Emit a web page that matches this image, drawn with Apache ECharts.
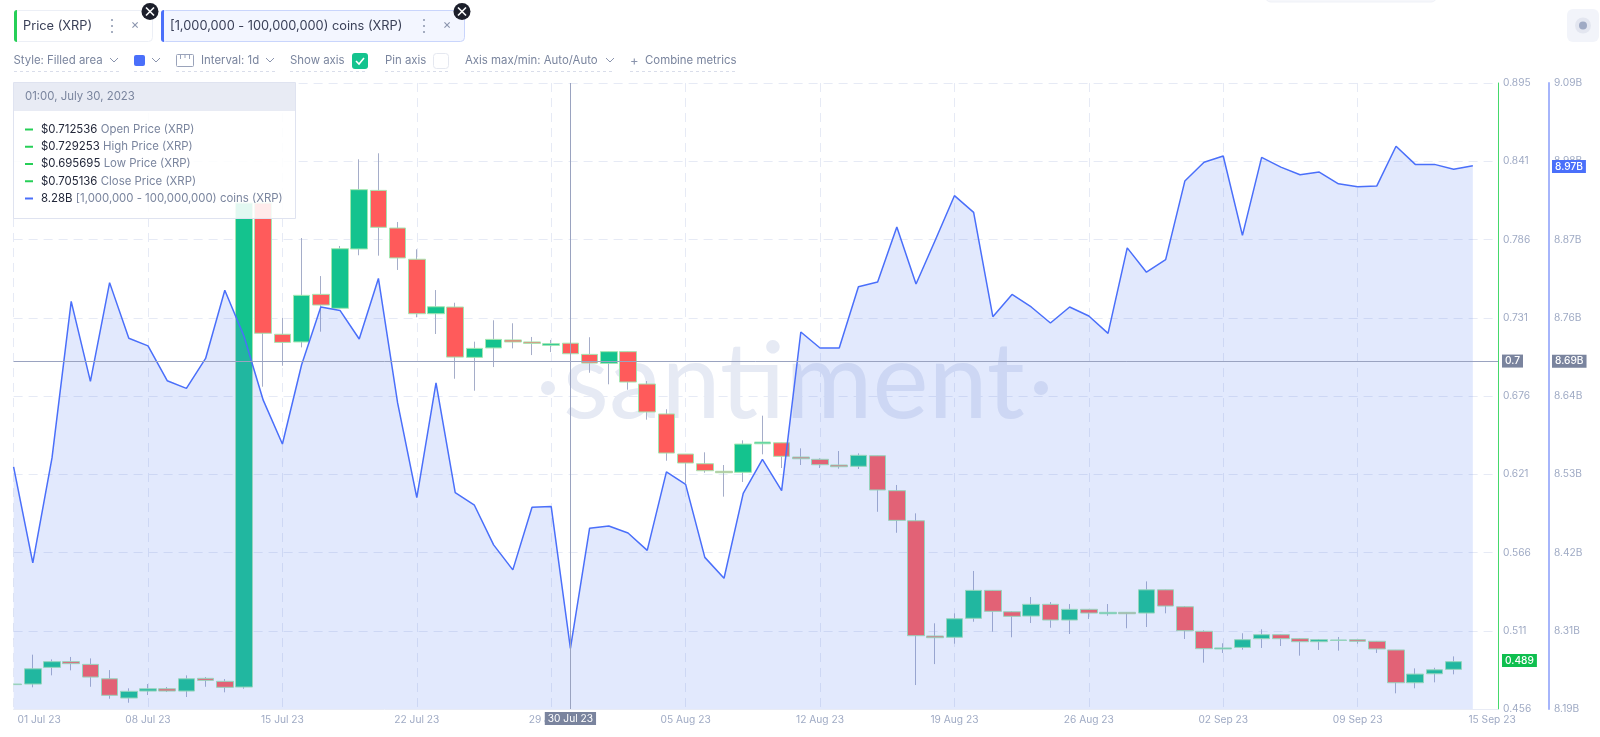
<!DOCTYPE html>
<html>
<head>
<meta charset="utf-8">
<title>Price (XRP) vs coins (XRP)</title>
<script src="https://cdn.jsdelivr.net/npm/echarts@6/dist/echarts.min.js"></script>
<style>
  html, body { margin: 0; padding: 0; background: #fff; }
  #chart { width: 1600px; height: 737px; }
</style>
</head>
<body>
<div id="chart"></div>
<script>
// x tick labels, one per week from 01 Jul, the last one is the end of the range
const xTickLabels = ['01 Jul 23', '08 Jul 23', '15 Jul 23', '22 Jul 23', '29 Jul 23', '05 Aug 23', '12 Aug 23', '19 Aug 23', '26 Aug 23', '02 Sep 23', '09 Sep 23', '15 Sep 23'];
const priceTickLabels = ['0.456', '0.511', '0.566', '0.621', '0.676', '0.731', '0.786', '0.841', '0.895'];
const coinTickLabels = ['8.19B', '8.31B', '8.42B', '8.53B', '8.64B', '8.76B', '8.87B', '8.98B', '9.09B'];

// daily candles, index 0 = 01 Jul 23
const opens = [0.4735, 0.4735, 0.4852, 0.4892, 0.4873, 0.4772, 0.4637, 0.4686, 0.4702, 0.4686, 0.4775, 0.4754, 0.4714, 0.8108, 0.7188, 0.7134, 0.7468, 0.7370, 0.7786, 0.8197, 0.7933, 0.7714, 0.7332, 0.7379, 0.7026, 0.7092, 0.7148, 0.7134, 0.7110, 0.712536, 0.7047, 0.6984, 0.7066, 0.6839, 0.6629, 0.6348, 0.6280, 0.6227, 0.6220, 0.6420, 0.6427, 0.6327, 0.6311, 0.6271, 0.6262, 0.6336, 0.6091, 0.5880, 0.5072, 0.5063, 0.5196, 0.5392, 0.5242, 0.5212, 0.5294, 0.5184, 0.5259, 0.5228, 0.5238, 0.5233, 0.5396, 0.5277, 0.5105, 0.4981, 0.4992, 0.5053, 0.5081, 0.5053, 0.5032, 0.5041, 0.5046, 0.5035, 0.4974, 0.4744, 0.4807, 0.4838];
const closes = [0.4731, 0.4842, 0.4892, 0.4878, 0.4784, 0.4656, 0.4684, 0.4702, 0.4686, 0.4772, 0.4761, 0.4712, 0.8108, 0.7195, 0.7131, 0.7461, 0.7393, 0.7788, 0.8202, 0.7938, 0.7723, 0.7332, 0.7381, 0.7028, 0.7089, 0.7152, 0.7134, 0.7124, 0.7122, 0.705136, 0.6986, 0.7066, 0.6853, 0.6643, 0.6355, 0.6285, 0.6231, 0.6217, 0.6418, 0.6432, 0.6332, 0.6315, 0.6273, 0.6259, 0.6339, 0.6096, 0.5883, 0.5074, 0.5060, 0.5193, 0.5392, 0.5245, 0.5210, 0.5294, 0.5184, 0.5259, 0.5233, 0.5238, 0.5228, 0.5396, 0.5282, 0.5109, 0.4983, 0.4988, 0.5046, 0.5081, 0.5053, 0.5032, 0.5046, 0.5044, 0.5035, 0.4981, 0.4744, 0.4805, 0.4835, 0.4892];
const lows = [0.4658, 0.4712, 0.4796, 0.4831, 0.4716, 0.4632, 0.4604, 0.4658, 0.4679, 0.4644, 0.4716, 0.4677, 0.4702, 0.6820, 0.6967, 0.7096, 0.7206, 0.7370, 0.7742, 0.7739, 0.7639, 0.7307, 0.7190, 0.6876, 0.6792, 0.6958, 0.7089, 0.7042, 0.7063, 0.695695, 0.6918, 0.6837, 0.6799, 0.6589, 0.6301, 0.6143, 0.6217, 0.6049, 0.6152, 0.6346, 0.6250, 0.6271, 0.6250, 0.6245, 0.6243, 0.5943, 0.5796, 0.4728, 0.4875, 0.5018, 0.5172, 0.5102, 0.5063, 0.5163, 0.5130, 0.5086, 0.5191, 0.5214, 0.5126, 0.5135, 0.5231, 0.5051, 0.4885, 0.4953, 0.4976, 0.4988, 0.5002, 0.4934, 0.4974, 0.4969, 0.5018, 0.4953, 0.4670, 0.4705, 0.4747, 0.4803];
const highs = [0.4751, 0.4941, 0.4908, 0.4925, 0.4915, 0.4833, 0.4705, 0.4735, 0.4714, 0.4796, 0.4784, 0.4770, 0.8136, 0.8136, 0.7304, 0.7863, 0.7596, 0.7807, 0.8415, 0.8457, 0.7975, 0.7784, 0.7498, 0.7409, 0.7136, 0.7286, 0.7265, 0.7169, 0.7148, 0.729253, 0.7167, 0.7066, 0.7066, 0.6860, 0.6662, 0.6348, 0.6360, 0.6271, 0.6444, 0.6617, 0.6427, 0.6388, 0.6318, 0.6369, 0.6353, 0.6336, 0.6131, 0.5932, 0.5161, 0.5231, 0.5528, 0.5394, 0.5247, 0.5345, 0.5310, 0.5296, 0.5259, 0.5296, 0.5238, 0.5455, 0.5396, 0.5282, 0.5112, 0.5021, 0.5091, 0.5119, 0.5084, 0.5056, 0.5051, 0.5065, 0.5046, 0.5037, 0.4974, 0.4845, 0.4849, 0.4929];

// supply held by the 1M-100M cohort, in billions, index 0 = 01 Jul 23
const coinValues = [8.538, 8.400, 8.551, 8.776, 8.661, 8.803, 8.723, 8.712, 8.662, 8.651, 8.694, 8.792, 8.726, 8.634, 8.571, 8.685, 8.768, 8.763, 8.722, 8.809, 8.630, 8.494, 8.659, 8.501, 8.483, 8.426, 8.390, 8.480, 8.481, 8.277, 8.450, 8.453, 8.443, 8.418, 8.531, 8.513, 8.408, 8.378, 8.500, 8.549, 8.504, 8.732, 8.709, 8.709, 8.797, 8.804, 8.883, 8.801, 8.864, 8.928, 8.904, 8.754, 8.786, 8.768, 8.745, 8.768, 8.755, 8.730, 8.853, 8.818, 8.836, 8.949, 8.976, 8.985, 8.871, 8.983, 8.969, 8.958, 8.962, 8.945, 8.941, 8.942, 8.999, 8.973, 8.973, 8.966, 8.971];

const tooltipTitle = '01:00, July 30, 2023';
const tooltipValues = ['$0.712536', '$0.729253', '$0.695695', '$0.705136', '8.28B'];
const tooltipNames = ['Open Price (XRP)', 'High Price (XRP)', 'Low Price (XRP)', 'Close Price (XRP)', '[1,000,000 - 100,000,000) coins (XRP)'];

const FONT = 'Inter, "Noto Sans", sans-serif';
const GREY = '#9faac4';
const GREEN = '#26cf57';
const BLUE = '#4a6ffa';
const PANEL_Z = 50;
const UI_SIZE = 11.4;

const evenTicks = (min, max, n) => Array.from({ length: n }, (_, i) => i === n - 1 ? max : min + (max - min) * i / (n - 1));
const PRICE_MIN = 0.456, PRICE_MAX = 0.895, COIN_MIN = 8.19, COIN_MAX = 9.09;

const chart = echarts.init(document.getElementById('chart'), null, { renderer: 'canvas' });

// --- helpers for the page furniture around the plot ---
function txt(x, y, text, fill, size, extra) {
    return { type: 'text', x, y, z: PANEL_Z, silent: true,
        style: Object.assign({ text, fill: fill || '#7a859e', fontSize: size || UI_SIZE, fontFamily: FONT, verticalAlign: 'middle' }, extra) };
}
function box(x, y, w, h, fill, stroke, r, z) {
    return { type: 'rect', z: z || PANEL_Z, silent: true, shape: { x, y, width: w, height: h, r: r || 0 },
        style: { fill: fill || 'none', stroke: stroke || 'none', lineWidth: 1 } };
}
function poly(points, stroke, width, z) {
    return { type: 'polyline', z: z || PANEL_Z, silent: true, shape: { points },
        style: { stroke, lineWidth: width || 1, fill: 'none' } };
}
function chevron(x, y) {
    return poly([[x - 4, y - 2], [x, y + 2], [x + 4, y - 2]], '#8a94ad', 1);
}
function underline(x1, x2) {
    return { type: 'line', z: PANEL_Z, silent: true, shape: { x1, y1: 71.5, x2, y2: 71.5 },
        style: { stroke: '#d9ddea', lineWidth: 1, lineDash: [3, 3] } };
}
function dot(cx, cy, r, fill, z) {
    return { type: 'circle', z: z || PANEL_Z, silent: true, shape: { cx, cy, r }, style: { fill } };
}
function closeBadge(cx, cy) {
    return [
        dot(cx, cy, 8.5, '#1c1f2b', PANEL_Z + 1),
        poly([[cx - 4, cy - 4], [cx + 4, cy + 4]], '#fff', 1.6, PANEL_Z + 2),
        poly([[cx + 4, cy - 4], [cx - 4, cy + 4]], '#fff', 1.6, PANEL_Z + 2)
    ];
}
function chip(x, w, label, accent, fill, stroke, dotsX, crossX) {
    return [
        box(x + 0.5, 10.5, w, 31, fill, stroke, 4),
        { type: 'rect', z: PANEL_Z, silent: true, shape: { x, y: 10, width: 3, height: 32, r: [3, 0, 0, 3] }, style: { fill: accent } },
        txt(x + 9, 26, label, '#3a4058', 12.8),
        dot(dotsX, 20, 1, '#8a94ad'), dot(dotsX, 26, 1, '#8a94ad'), dot(dotsX, 32, 1, '#8a94ad'),
        txt(crossX, 25.5, '×', '#8a94ad', 13, { align: 'center' })
    ];
}

const toolbar = [
    ...chip(14, 138, 'Price (XRP)', GREEN, '#fff', '#eceff6', 112, 135),
    ...chip(161, 303, '[1,000,000 - 100,000,000) coins (XRP)', BLUE, '#f3f6ff', '#c9d5fc', 424, 447),
    ...closeBadge(150, 11.5),
    ...closeBadge(462, 11.5),
    txt(13.5, 61, 'Style: Filled area'), chevron(114, 60), underline(14, 119),
    box(134, 55, 11, 11, BLUE, null, 2), chevron(156, 60), underline(134, 161),
    box(176.5, 54.5, 17, 12, 'none', '#9aa3ba', 1),
    poly([[180.5, 55], [180.5, 59]], '#9aa3ba'), poly([[185, 55], [185, 58]], '#9aa3ba'), poly([[189.5, 55], [189.5, 59]], '#9aa3ba'),
    txt(201, 61, 'Interval: 1d'), chevron(270, 60), underline(176, 275),
    txt(290, 61, 'Show axis'), box(352, 53, 16, 16, '#14c38e', null, 3),
    poly([[356, 61], [359, 64], [364, 58]], '#fff', 1.6), underline(290, 368),
    txt(385, 61, 'Pin axis'), box(433.5, 53.5, 15, 15, '#fff', '#e5e8f0', 3), underline(385, 449),
    txt(465, 61, 'Axis max/min: Auto/Auto'), chevron(610, 60), underline(465, 614),
    txt(630, 61, '+', '#8a94ad', 13), txt(645, 61, 'Combine metrics'), underline(630, 736),
    // settings button and the clipped chip on the top edge
    box(1567, 9, 32, 33, '#f2f4fa', null, 6),
    dot(1583, 25.5, 8, '#e3e6f0'), dot(1583, 25.5, 4, GREY),
    box(1265, -10, 172, 12, '#f6f7fb', '#eff1f7', 6)
];

const tooltipPanel = [
    box(13.5, 82.5, 282, 136, 'rgba(255,255,255,0.88)', '#dfe3f0', 0),
    box(14, 83, 281, 28, '#e8ebf4', null, 0),
    txt(25, 97, tooltipTitle)
];
tooltipValues.forEach((value, i) => {
    const y = 129.5 + i * 17.25;
    const accent = i < 4 ? GREEN : BLUE;
    tooltipPanel.push({ type: 'rect', z: PANEL_Z, silent: true, shape: { x: 25, y: y - 1, width: 8, height: 2 }, style: { fill: accent } });
    tooltipPanel.push({ type: 'text', x: 41, y, z: PANEL_Z, silent: true, style: {
        text: '{v|' + value + '} {n|' + tooltipNames[i] + '}',
        verticalAlign: 'middle',
        rich: {
            v: { fill: '#23283a', fontSize: UI_SIZE, fontFamily: FONT },
            n: { fill: '#7a859e', fontSize: UI_SIZE, fontFamily: FONT }
        }
    } });
});

// big logo text sits below the series, the area tints it
const watermark = [
    { type: 'text', x: 563, y: 331, z: 1, silent: true, style: {
        text: 'santiment', fill: '#e6eaf4', fontSize: 106, fontWeight: 400, fontFamily: 'Lato, Roboto, sans-serif' } },
    dot(548, 388, 7, '#e6eaf4', 1),
    dot(1041, 388, 7, '#e6eaf4', 1),
    // the first candle is cut by the left edge of the plot
    box(0, 640, 13.2, 69, '#fff', null, 0, 4)
];

const axisFontBase = { color: GREY, fontFamily: FONT, fontSize: 10.2, margin: 5 };

const tag = (bg, text, y, key) => ({
    [key]: y,
    label: { show: true, position: 'end', formatter: text, backgroundColor: bg, color: '#fff',
        fontFamily: FONT, fontSize: 10.2, fontWeight: 500, padding: [2, 3, 1, 3] }
});

const option = {
    animation: false,
    backgroundColor: '#fff',
    grid: { left: 13.6, right: 102, top: 83, bottom: 28 },
    xAxis: {
        type: 'value',
        min: 0,
        max: 77.31,
        axisLine: { show: true, onZero: false, lineStyle: { color: '#e8ebf5' } },
        axisTick: { show: false, customValues: [0, 7, 14, 21, 28, 35, 42, 49, 56, 63, 70] },
        splitLine: { show: true, lineStyle: { color: '#e6eaf5', type: [9, 6] } },
        axisLabel: {
            color: GREY, fontFamily: FONT, fontSize: 10.2, margin: 6,
            // first and last labels are pushed to stay inside the plot
            customValues: [1.33, 7, 14, 21, 28, 35, 42, 49, 56, 63, 70, 77],
            formatter: value => xTickLabels[Math.round(value / 7)]
        }
    },
    yAxis: [
        {
            type: 'value', position: 'right', min: PRICE_MIN, max: PRICE_MAX,
            axisLine: { show: true, onZero: false, lineStyle: { color: '#45d96b', width: 1 } },
            axisTick: { show: false, customValues: evenTicks(PRICE_MIN, PRICE_MAX, 9) },
            splitLine: { show: true, lineStyle: { color: '#e6eaf5', type: [9, 6] } },
            axisLabel: Object.assign({}, axisFontBase, {
                customValues: evenTicks(PRICE_MIN, PRICE_MAX, 9),
                formatter: value => priceTickLabels[Math.round((value - PRICE_MIN) / (PRICE_MAX - PRICE_MIN) * 8)]
            })
        },
        {
            type: 'value', position: 'right', offset: 51, min: COIN_MIN, max: COIN_MAX,
            axisLine: { show: true, onZero: false, lineStyle: { color: '#a6b5fb', width: 2 } },
            axisTick: { show: false, customValues: evenTicks(COIN_MIN, COIN_MAX, 9) },
            splitLine: { show: false },
            axisLabel: Object.assign({}, axisFontBase, {
                customValues: evenTicks(COIN_MIN, COIN_MAX, 9),
                formatter: value => coinTickLabels[Math.round((value - COIN_MIN) / (COIN_MAX - COIN_MIN) * 8)]
            })
        }
    ],
    series: [
        {
            // thin candles only give the wicks their own colour
            name: 'wicks',
            type: 'candlestick',
            yAxisIndex: 0,
            barWidth: 1,
            z: 2,
            silent: true,
            itemStyle: { color: '#a5adc9', color0: '#a5adc9', borderColor: '#a5adc9', borderColor0: '#a5adc9', borderWidth: 1 },
            data: opens.map((o, i) => [i, o, closes[i], lows[i], highs[i]]),
            markLine: {
                symbol: 'none', silent: true, animation: false,
                lineStyle: { color: 'transparent', width: 1, type: 'solid' },
                label: { distance: 4 },
                data: [
                    tag('#7a849e', '0.7', 0.7, 'yAxis'),
                    tag('#0fbf4f', '0.489', 0.489, 'yAxis')
                ]
            }
        },
        {
            name: 'Price (XRP)',
            type: 'candlestick',
            yAxisIndex: 0,
            barWidth: 17,
            z: 2,
            silent: true,
            itemStyle: { color: '#14c38e', color0: '#ff5b5b', borderColor: '#a3e6b1', borderColor0: '#a3e6b1', borderWidth: 1 },
            data: opens.map((o, i) => [i, o, closes[i], Math.min(o, closes[i]), Math.max(o, closes[i])])
        },
        {
            name: '[1,000,000 - 100,000,000) coins (XRP)',
            type: 'line',
            yAxisIndex: 1,
            z: 3,
            silent: true,
            showSymbol: false,
            lineStyle: { color: BLUE, width: 1.5 },
            areaStyle: { color: 'rgba(94,133,244,0.18)', opacity: 1, origin: 'start' },
            data: coinValues.map((v, i) => [i, v]),
            markLine: {
                symbol: 'none', silent: true, animation: false,
                lineStyle: { color: '#9aa3c0', width: 1, type: 'solid' },
                label: { distance: 54 },
                data: [
                    tag('#7a849e', '8.69B', 8.69, 'yAxis'),
                    Object.assign(tag('#4a6ffa', '8.97B', 8.97, 'yAxis'), { lineStyle: { color: 'transparent' } }),
                    {
                        xAxis: 29,
                        label: { show: true, position: 'start', distance: 3, formatter: '30 Jul 23', backgroundColor: '#7a849e',
                            color: '#fff', fontFamily: FONT, fontSize: 10.2, padding: [2, 3, 1, 3] }
                    }
                ]
            }
        }
    ],
    graphic: { elements: [...watermark, ...toolbar, ...tooltipPanel] }
};

chart.setOption(option);
window.addEventListener('resize', () => chart.resize());
</script>
</body>
</html>
